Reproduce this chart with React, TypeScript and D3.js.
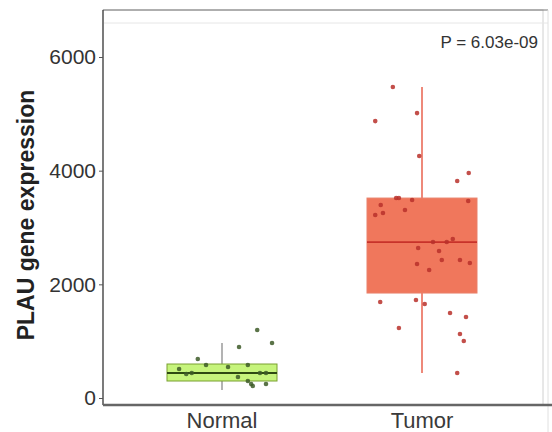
import React, { useEffect, useRef } from 'react';
import * as d3 from 'd3';

const groups = ['Normal', 'Tumor'];
const q1 = [299, 1847];
const medians = [440, 2744];
const q3 = [598, 3518];
const whiskerLow = [141, 440];
const whiskerHigh = [967, 5471];

// expression values per sample, with the jitter offset (fraction of half box width)
const normalValues = [1196, 967, 897, 686, 580, 580, 510, 545, 422, 440, 369, 440, 440, 299, 246, 211, 246];
const normalJitter = [0.64, 0.91, 0.31, -0.44, -0.29, 0.47, -0.78, 0.11, -0.65, -0.55, 0.29, 0.69, 0.8, 0.47, 0.53, 0.56, 0.8];
const tumorValues = [5471, 4872, 5013, 4257, 3817, 3958, 3518, 3518, 3483, 3465, 3395, 3219, 3254, 3307, 2797, 2744, 2744,
  2639, 2586, 2427, 2427, 2375, 2357, 2252, 1689, 1724, 1653, 1495, 1425, 1231, 1126, 1003, 440];
const tumorJitter = [-0.53, -0.85, -0.09, -0.05, 0.64, 0.85, -0.47, -0.42, -0.18, 0.84, -0.75, -0.85, -0.71, -0.31, 0.56, 0.2, 0.45,
  -0.07, 0.31, 0.36, 0.69, 0.87, -0.09, 0.13, -0.76, -0.11, 0.05, 0.51, 0.8, -0.42, 0.69, 0.76, 0.64];
const yTicks = [0, 2000, 4000, 6000];
const pLabel = 'P = 6.03e-09';

const font = 'Liberation Sans, Arial, sans-serif';

const App = () => {
  const svgRef = useRef<SVGSVGElement>(null);

  useEffect(() => {
    const width = 552;
    const height = 432;
    const left = 103, right = 543, top = 10, bottom = 405;

    const svg = d3.select(svgRef.current);
    svg.selectAll('*').remove();

    const x = d3.scalePoint().domain(groups).range([122, 522]).padding(0.5);
    const y = d3.scaleLinear().domain([0, 6000]).range([398, 57]);
    const boxW = 110;

    // panel frame
    svg.append('rect').attr('x', left).attr('y', top).attr('width', right - left).attr('height', bottom - top)
      .attr('fill', '#fff').attr('stroke', '#d0d0d0');
    svg.append('line').attr('x1', left).attr('x2', 548).attr('y1', top).attr('y2', top).attr('stroke', '#777');
    svg.append('line').attr('x1', left).attr('x2', 548).attr('y1', 23).attr('y2', 23).attr('stroke', '#e6e6e6');
    svg.append('line').attr('x1', 548).attr('x2', 548).attr('y1', top).attr('y2', 432).attr('stroke', '#e0e0e0');

    const styles = [
      { fill: '#c6f47c', stroke: '#7aa030', median: '#2f4a12', whisker: '#9a9a9a', point: '#3d5a28' },
      { fill: '#f0775c', stroke: '#e9806a', median: '#c8322a', whisker: '#e8624e', point: '#b8302a' },
    ];

    groups.forEach((g, i) => {
      const cx = x(g)!;
      const s = styles[i];
      svg.append('line').attr('x1', cx).attr('x2', cx)
        .attr('y1', y(whiskerLow[i])).attr('y2', y(whiskerHigh[i]))
        .attr('stroke', s.whisker).attr('stroke-width', 1.5);
      svg.append('rect').attr('x', cx - boxW / 2).attr('width', boxW)
        .attr('y', y(q3[i])).attr('height', y(q1[i]) - y(q3[i]))
        .attr('fill', s.fill).attr('stroke', s.stroke).attr('stroke-width', 1);
      svg.append('line').attr('x1', cx - boxW / 2).attr('x2', cx + boxW / 2)
        .attr('y1', y(medians[i])).attr('y2', y(medians[i]))
        .attr('stroke', s.median).attr('stroke-width', 1.8);
    });

    const drawPoints = (g, values, jitter, color) => {
      const cx = x(g)!;
      svg.append('g').selectAll('circle').data(values).enter().append('circle')
        .attr('cx', (d, i) => cx + jitter[i] * boxW / 2)
        .attr('cy', (d) => y(d))
        .attr('r', 2.3)
        .attr('fill', color)
        .attr('opacity', 0.85);
    };
    drawPoints('Normal', normalValues, normalJitter, styles[0].point);
    drawPoints('Tumor', tumorValues, tumorJitter, styles[1].point);

    // axes
    svg.append('line').attr('x1', left).attr('x2', left).attr('y1', top).attr('y2', bottom).attr('stroke', '#333').attr('stroke-width', 1.2);
    svg.append('line').attr('x1', left).attr('x2', width).attr('y1', bottom).attr('y2', bottom).attr('stroke', '#666').attr('stroke-width', 2.5);

    const yAxis = svg.append('g').attr('transform', `translate(${left},0)`)
      .call(d3.axisLeft(y).tickValues(yTicks).tickSize(4).tickPadding(3).tickFormat(d3.format('d')));
    yAxis.select('.domain').remove();
    yAxis.selectAll('line').attr('stroke', '#555');
    yAxis.selectAll('text').attr('font-size', 21).attr('fill', '#333').attr('font-family', font);

    groups.forEach((g) => {
      svg.append('text').attr('x', x(g)!).attr('y', 428).attr('text-anchor', 'middle')
        .attr('font-size', 22).attr('fill', '#3a3a3a')
        .attr('font-family', font).text(g);
    });

    svg.append('text').attr('transform', `translate(34,215) rotate(-90)`)
      .attr('text-anchor', 'middle').attr('font-size', 23).attr('font-weight', 'bold').attr('fill', '#222')
      .attr('font-family', font).text('PLAU gene expression');

    svg.append('text').attr('x', 538).attr('y', 48).attr('text-anchor', 'end')
      .attr('font-size', 17).attr('fill', '#333')
      .attr('font-family', font).text(pLabel);

    svg.attr('width', width).attr('height', height);
  }, []);

  return (
    <svg ref={svgRef} width={552} height={432}
      style={{ position: 'absolute', left: 0, top: 0, background: '#fff' }} />
  );
};

export default App;
